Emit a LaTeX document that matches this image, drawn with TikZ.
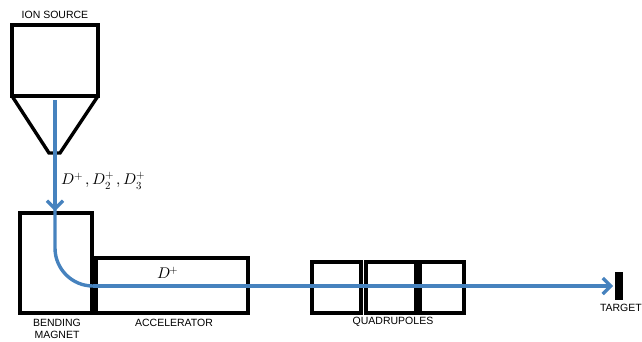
\documentclass[tikz,border=0pt]{standalone}
\usepackage{fontspec}
\setmainfont{Liberation Sans}
\usepackage{unicode-math}
\usetikzlibrary{arrows.meta}
\definecolor{beam}{RGB}{70,130,190}
\tikzset{
  part/.style={draw=black, line width=3.4pt},
  beamline/.style={draw=beam, line width=3.4pt},
  lbl/.style={font=\fontsize{10.5}{12}\selectfont, inner sep=0pt},
  tip/.style={-{Straight Barb[length=8pt,width=16pt,line width=3.2pt]}}
}
\begin{document}
\begin{tikzpicture}[x=1pt,y=-1pt]
\useasboundingbox (0,0) rectangle (642,341);
% ion source
\draw[part] (12,25) rectangle (98,96);
\draw[part,line join=miter] (12,96) -- (49,153) -- (60,153) -- (98,96);
\node[lbl] (ion) at (55,15) {ION SOURCE};
% bending magnet
\draw[part] (20,213) rectangle (92,313);
\node[lbl, align=center] (bm) at (57,329) {BENDING\\MAGNET};
% accelerator
\draw[part] (96,258) rectangle (248,313);
\node[lbl] (acc) at (174,323) {ACCELERATOR};
% quadrupoles
\draw[part] (312,262) rectangle (361,313);
\draw[part] (366,262) rectangle (416,313);
\draw[part] (420,262) rectangle (464,313);
\node[lbl] (quad) at (393,322) {QUADRUPOLES};
% target
\fill (615,272) rectangle (623,300);
\node[lbl, anchor=east] (tgt) at (642,308) {TARGET};
% beam
\coordinate (b0) at (55,100);
\coordinate (b1) at (55,211);
\draw[beamline, tip] (b0) -- (b1);
\draw[beamline] (55,205) -- (55,248) arc[start angle=180, end angle=90, radius=38];
\draw[beamline, tip] (93,286) -- (613,286);
% labels
\node[inner sep=0pt, font=\fontsize{15.5}{17}\selectfont, anchor=west] (ions) at (61,181) {$D^+\,, D_2^+\,, D_3^+$};
\node[inner sep=0pt, font=\fontsize{15.5}{17}\selectfont] (dp) at (168,273) {$D^+$};
\end{tikzpicture}
\end{document}
